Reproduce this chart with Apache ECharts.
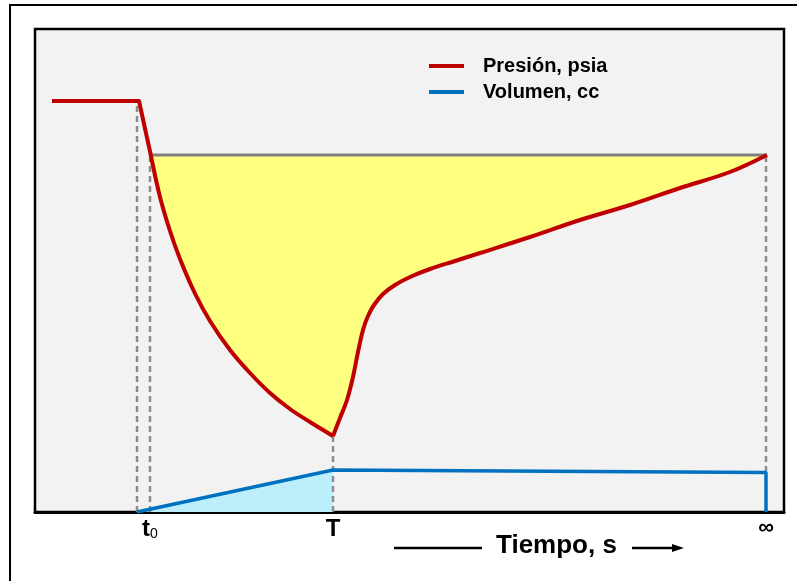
<!DOCTYPE html>
<html>
<head>
<meta charset="utf-8">
<script src="https://cdn.jsdelivr.net/npm/echarts@6/dist/echarts.min.js"></script>
<style>
  html, body { margin: 0; padding: 0; background: #ffffff; }
  #chart { width: 797px; height: 581px; }
</style>
</head>
<body>
<div id="chart"></div>
<script>
// Pressure and injected volume versus time (arbitrary time / pressure units).
const FONT = '"Liberation Sans", Arial, sans-serif';

// Pressure before the test: flat plateau, then the sharp drop at t0
const pressPlateau = [[17, 411], [104, 411], [116, 356]];
// Pressure decline from t0 to shut-in time T
const pressDecline = [[116, 356], [125, 315], [135, 281], [145, 253], [160, 218.5], [175, 191],
  [195, 162], [215, 139], [235, 119], [255, 103], [275, 90], [298, 76]];
// Pressure build-up from T toward infinite time
const pressBuildup = [[298, 76], [305, 94], [312, 112], [318, 135], [323, 160], [328, 182],
  [333, 196], [339, 207], [348, 218], [360, 227], [375, 235], [395, 243], [420, 251],
  [445, 259], [495, 275], [545, 292], [595, 307], [645, 324], [695, 340], [732, 357]];
// Reference (initial) pressure level
const refLevel = 357;
const refStartX = 116;
const refEndX = 732;

// Injected volume
const volInjection = [[102, 0], [298, 42]];
const volAfter = [[298, 42], [731, 39.5], [731, 0]];

// Vertical guide lines: position, lower and upper ends
const guideX = [102, 115, 298, 731];
const guideLow = [0, 0, 0, 40];
const guideHigh = [411, 356, 76, 357];

// Time-axis marks
const tickValues = [115, 298, 731];
const tickLabels = ['{t|t}{s|0}', '{b|T}', '{i|∞}'];

const RED = '#c00000';
const BLUE = '#0070c0';
const GREY = '#808080';
const SMOOTH = 0.35;

const series = [];

// Light-blue area under the injected volume
series.push({
  type: 'line', data: volInjection, symbol: 'none', silent: true,
  lineStyle: { width: 0 },
  areaStyle: { color: '#bdeefb', opacity: 1, origin: 'start' }
});
// Yellow area between the pressure curve and the reference level
[pressDecline, pressBuildup].forEach(seg => {
  series.push({
    type: 'line', data: seg, symbol: 'none', smooth: SMOOTH, silent: true,
    lineStyle: { width: 0 },
    areaStyle: { color: '#ffff80', opacity: 1, origin: refLevel }
  });
});
// Dashed guides
guideX.forEach((x, i) => {
  series.push({
    type: 'line', data: [[x, guideLow[i]], [x, guideHigh[i]]], symbol: 'none', silent: true,
    lineStyle: { color: '#8c8c8c', width: 2.5, type: [6, 4] }
  });
});
// Reference level line
series.push({
  type: 'line', data: [[refStartX, refLevel], [refEndX, refLevel]], symbol: 'none', silent: true,
  lineStyle: { color: GREY, width: 3 }
});
// Pressure curve
series.push({
  name: 'Presión, psia', type: 'line', data: pressPlateau, symbol: 'none', color: RED,
  lineStyle: { color: RED, width: 4, join: 'round' }
});
series.push({
  type: 'line', data: pressDecline, symbol: 'none', smooth: SMOOTH, color: RED,
  lineStyle: { color: RED, width: 4 }
});
series.push({
  type: 'line', data: pressBuildup, symbol: 'none', smooth: SMOOTH, color: RED,
  lineStyle: { color: RED, width: 4 }
});
// Volume curve
series.push({
  name: 'Volumen, cc', type: 'line', data: volInjection.concat(volAfter.slice(1)), symbol: 'none', color: BLUE,
  lineStyle: { color: BLUE, width: 3.5 }
});

const chart = echarts.init(document.getElementById('chart'), null, { renderer: 'canvas' });
chart.setOption({
  animation: false,
  backgroundColor: '#ffffff',
  grid: {
    left: 35, top: 29, width: 749, height: 483,
    show: true, backgroundColor: '#f2f2f2', borderColor: '#000000', borderWidth: 2.5
  },
  legend: {
    data: ['Presión, psia', 'Volumen, cc'],
    orient: 'vertical', left: 429, top: 56, padding: 0,
    icon: 'rect', itemWidth: 35, itemHeight: 4, itemGap: 6,
    selectedMode: false,
    textStyle: { fontFamily: FONT, fontSize: 20, fontWeight: 'bold', color: '#000', lineHeight: 20, padding: [0, 0, 0, 14] }
  },
  xAxis: {
    type: 'value', min: 0, max: 749,
    splitLine: { show: false },
    axisTick: { show: false },
    axisLine: { show: true, lineStyle: { color: '#000', width: 3 } },
    axisLabel: {
      customValues: tickValues,
      margin: 5,
      formatter: (v) => tickLabels[tickValues.indexOf(v)] || '',
      rich: {
        t: { fontFamily: FONT, fontSize: 24, fontWeight: 'bold', color: '#000' },
        s: { fontFamily: FONT, fontSize: 14, color: '#000', verticalAlign: 'bottom', padding: [6, 0, 0, 0] },
        b: { fontFamily: FONT, fontSize: 24, fontWeight: 'bold', color: '#000' },
        i: { fontFamily: FONT, fontSize: 22, fontWeight: 'bold', color: '#000' }
      }
    }
  },
  yAxis: {
    type: 'value', min: 0, max: 483,
    show: false, splitLine: { show: false }
  },
  series: series,
  graphic: [
    // outer frame
    { type: 'rect', shape: { x: 10, y: 5, width: 900, height: 700 },
      style: { fill: null, stroke: '#000', lineWidth: 2 }, silent: true },
    // time-axis title with leading line and arrow
    { type: 'line', shape: { x1: 394, y1: 548, x2: 482, y2: 548 }, style: { stroke: '#000', lineWidth: 2.5 }, silent: true },
    { type: 'text', x: 496, y: 546,
      style: { text: 'Tiempo, s', font: 'bold 26px ' + FONT, fill: '#000', verticalAlign: 'middle', align: 'left' }, silent: true },
    { type: 'line', shape: { x1: 632, y1: 548, x2: 676, y2: 548 }, style: { stroke: '#000', lineWidth: 2.5 }, silent: true },
    { type: 'polygon', shape: { points: [[672, 544], [684, 548], [672, 552]] }, style: { fill: '#000' }, silent: true }
  ]
});
</script>
</body>
</html>
